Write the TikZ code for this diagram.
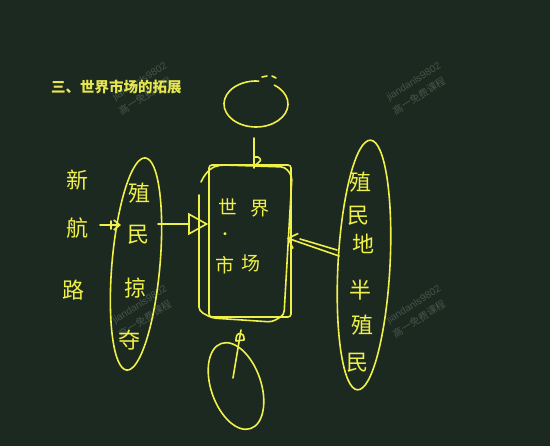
\documentclass[tikz,border=0pt]{standalone}
\usepackage{fontspec}
\newfontfamily\cjk{Noto Sans CJK SC}
\setsansfont{Liberation Sans}
\usetikzlibrary{shapes.geometric,arrows.meta}
\definecolor{board}{HTML}{1C2920}
\definecolor{chalkc}{HTML}{F0F04A}
\definecolor{titlec}{HTML}{E6E650}
\definecolor{wmc}{HTML}{465549}
\tikzset{
  chalk/.style={draw=chalkc, line width=1.6pt, line cap=round, line join=round},
  hw/.style={text=chalkc, inner sep=0pt, font=\cjk\fontsize{22}{22}\selectfont},
  hwbox/.style={hw, font=\cjk\fontsize{19}{19}\selectfont},
  wm/.style={text=wmc, inner sep=0pt, rotate=32, font=\sffamily\fontsize{10}{11}\selectfont},
  wmcn/.style={text=wmc, inner sep=0pt, rotate=32, font=\cjk\fontsize{10}{11}\selectfont},
  blob/.style={chalk, ellipse, inner sep=0pt}
}
\begin{document}
\begin{tikzpicture}[x=1pt,y=-1pt]
\fill[board] (0,0) rectangle (550,446);
\useasboundingbox (0,0) rectangle (550,446);

% watermarks
\node[wm] (w1) at (140,82) {jiandanls9802};
\node[wmcn] (w2) at (145,96) {高一免费课程};
\node[wm] (w3) at (414,82) {jiandanls9802};
\node[wmcn] (w4) at (419,96) {高一免费课程};
\node[wm] (w5) at (140,305) {jiandanls9802};
\node[wmcn] (w6) at (145,319) {高一免费课程};
\node[wm] (w7) at (414,305) {jiandanls9802};
\node[wmcn] (w8) at (419,319) {高一免费课程};

% title
\node[anchor=west, text=titlec, inner sep=0pt, font=\cjk\bfseries\fontsize{14.5}{15}\selectfont] (title) at (51,87) {三、世界市场的拓展};

% left words
\node[hw] (xin) at (77,180) {新};
\node[hw] (hang) at (77,228) {航};
\node[hw] (lu) at (73,290) {路};

% left ellipse
\node[blob, minimum width=48, minimum height=213, rotate=-5] (plunder) at (136,264) {};
\node[hw] (z1) at (139,193) {殖};
\node[hw] (z2) at (138,235) {民};
\node[hw] (z3) at (135,288) {掠};
\node[hw] (z4) at (129,340) {夺};

% market box
\node[chalk, minimum width=82, minimum height=152, rounded corners=3pt] (market) at (250,241) {};
\draw[chalk, rounded corners=4pt] (201,182) .. controls (206,171) and (213,166) .. (224,165) -- (285,167) -- (292,176) -- (284,315) -- (272,322) -- (212,318) -- (199,311) -- (199,195);
\node[hwbox] (shi) at (228,207) {世};
\node[hwbox] (jie) at (260,209) {界};
\node[hw, font=\cjk\fontsize{14}{14}\selectfont] (dot) at (225,236) {·};
\node[hwbox] (shi2) at (225,265) {市};
\node[hwbox] (chang) at (251,263) {场};

% top circle
\coordinate (topc) at (256,104);
\draw[chalk] (topc) ++(-55:32 and 23) arc[start angle=-55, end angle=275, x radius=32, y radius=23];
\draw[chalk] (262,77) -- (267,76);
\draw[chalk] (272,76) -- (276,78);
\coordinate (t1) at (254,138);
\draw[chalk] (t1) -- (t1 |- market.north);
\draw[chalk] (254,168) -- (254,157) -- (258,157) .. controls (262,160) .. (254,166);

% right ellipse
\node[blob, minimum width=52, minimum height=250, rotate=-3] (colony) at (364,265) {};
\node[hw] (c1) at (360,182) {殖};
\node[hw] (c2) at (358,216) {民};
\node[hw] (c3) at (363,244) {地};
\node[hw] (c4) at (360,290) {半};
\node[hw] (c5) at (362,325) {殖};
\node[hw] (c6) at (357,363) {民};

% bottom ellipse
\node[blob, minimum width=50, minimum height=90, rotate=19] (bottom) at (236,386) {};
\coordinate (b1) at (241,330);
\coordinate (b2) at (233,378);
\draw[chalk] (b1) -- (b2);
\draw[chalk] (236,341) .. controls (235,331) and (245,331) .. (244,340) -- (236,341);

% arrows
\coordinate (a1) at (100,225);
\draw[chalk, -{Straight Barb[length=6pt,width=10pt]}] (a1) -- (121,225);
\draw[chalk] (111,221) -- (111,229);
\coordinate (a2) at (158,224);
\draw[chalk, -{Triangle[open,length=20pt,width=22pt]}] (a2) -- (a2 -| market.west);
\coordinate (a3) at (339,256);
\draw[chalk, -{Straight Barb[length=8pt,width=16pt]}] (a3) -- (287,238);
\draw[chalk] (337,250) -- (300,239);
\end{tikzpicture}
\end{document}
